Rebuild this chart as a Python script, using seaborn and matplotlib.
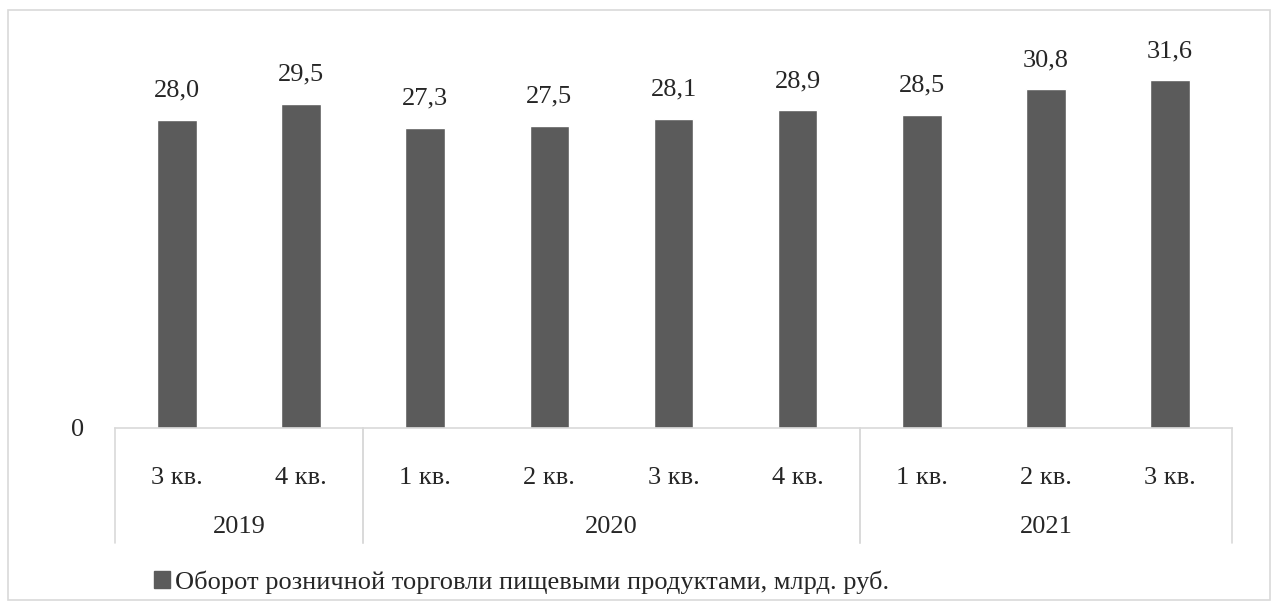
import seaborn as sns
import pandas as pd
import matplotlib.pyplot as plt
from matplotlib.patches import Rectangle
from matplotlib.transforms import blended_transform_factory

quarters = ['3 кв.', '4 кв.', '1 кв.', '2 кв.', '3 кв.', '4 кв.', '1 кв.', '2 кв.', '3 кв.']
years = ['2019', '2019', '2020', '2020', '2020', '2020', '2021', '2021', '2021']
values = [28.0, 29.5, 27.3, 27.5, 28.1, 28.9, 28.5, 30.8, 31.6]
series_name = 'Оборот розничной торговли пищевыми продуктами, млрд. руб.'

sns.set_style('white')
plt.rcParams['font.family'] = ['Liberation Serif', 'DejaVu Serif']
fs = 19

df = pd.DataFrame({'pos': [str(i) for i in range(len(values))], 'value': values})

fig = plt.figure(figsize=(12.79, 6.09), dpi=100)
ax = fig.add_axes([115 / 1279, 1 - 428 / 609, (1232 - 115) / 1279, (428 - 43) / 609])
sns.barplot(data=df, x='pos', y='value', color='#5b5b5b', saturation=1, width=0.32, ax=ax)

ax.set_ylim(0, 35)
ax.set_xlim(-0.5, len(values) - 0.5)
ax.set_yticks([0])
ax.set_yticklabels(['0'], fontsize=fs)
ax.tick_params(axis='y', length=0, pad=22)
ax.set_xticks([])
ax.set_xlabel('')
ax.set_ylabel('')
for s in ['top', 'right', 'left']:
    ax.spines[s].set_visible(False)
ax.spines['bottom'].set_color('#d9d9d9')
ax.spines['bottom'].set_linewidth(1.2)

labels = [f'{v:.1f}'.replace('.', ',') for v in values]
ax.bar_label(ax.containers[0], labels=labels, padding=13, fontsize=fs)

tr = blended_transform_factory(ax.transData, ax.transAxes)
for i, q in enumerate(quarters):
    ax.text(i, -0.13, q, transform=tr, ha='center', va='center', fontsize=fs)

# year groups
groups = []
for i, y in enumerate(years):
    if groups and groups[-1][0] == y:
        groups[-1][2] = i
    else:
        groups.append([y, i, i])
for y, a, b in groups:
    ax.text((a + b) / 2, -0.257, y, transform=tr, ha='center', va='center', fontsize=fs)
    for xx in (a - 0.5, b + 0.5):
        ax.plot([xx, xx], [0, -0.299], transform=tr, color='#d9d9d9', lw=1.2, clip_on=False)

handle = Rectangle((0, 0), 1, 1, color='#5b5b5b')
fig.legend([handle], [series_name], loc='center', bbox_to_anchor=(522 / 1279, 1 - 582 / 609),
           frameon=False, fontsize=fs, handlelength=0.6, handleheight=0.6, handletextpad=0.2)

fig.patches.append(Rectangle((8 / 1279, 9 / 609), 1262 / 1279, 590 / 609, transform=fig.transFigure,
                             fill=False, edgecolor='#d9d9d9', lw=1.2))

fig.savefig('out.png', dpi=100)
